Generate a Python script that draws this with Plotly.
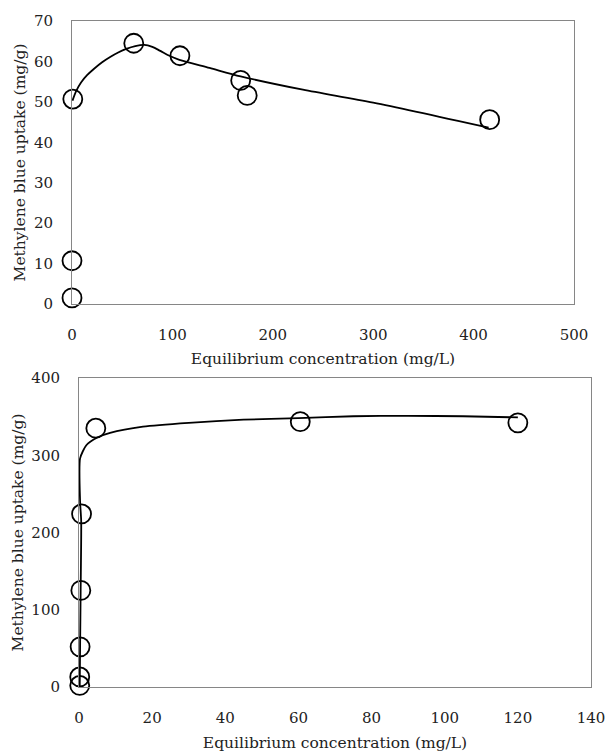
import plotly.graph_objects as go

# ---- Top panel data ----
top_ce = [0.0, 0.0, 0.8, 61.5, 107.5, 168.0, 174.5, 416.0]
top_qe = [1.5, 10.7, 50.7, 64.5, 61.4, 55.3, 51.6, 45.6]
top_fit_ce = [0.5, 4, 9, 15, 22, 30, 38, 46, 54, 63, 72, 80, 88, 97, 107, 137, 168, 230, 300, 415]
top_fit_qe = [50.3, 52.6, 54.8, 56.6, 58.2, 59.8, 61.1, 62.2, 63.1, 63.8, 64.1, 63.6, 62.6, 61.4, 60.4, 58.4, 56.3, 53.0, 49.8, 43.6]
top_xticks = [0, 100, 200, 300, 400, 500]
top_yticks = [0, 10, 20, 30, 40, 50, 60, 70]

# ---- Bottom panel data ----
bot_ce = [0.2, 0.2, 0.3, 0.5, 0.7, 4.6, 60.5, 120.0]
bot_qe = [2, 13, 52, 125, 224, 335, 343.5, 342]
bot_fit_ce = [0.2, 0.3, 0.45, 0.6, 0.3, 0.3, 2, 5, 8.5, 17.5, 30, 45, 60, 75, 90, 105, 120]
bot_fit_qe = [0, 52, 125, 215, 240, 296, 313, 323, 329, 337, 342, 346, 348, 350.5, 351, 350.5, 349]
bot_xticks = [0, 20, 40, 60, 80, 100, 120, 140]
bot_yticks = [0, 100, 200, 300, 400]

W, H = 608, 753
FONT = "DejaVu Serif"
AX = "#868686"

fig = go.Figure()

line_style = dict(color="black", width=1.8)
marker_style = dict(symbol="circle-open", size=19, color="black", line=dict(width=1.8, color="black"))

fig.add_trace(go.Scatter(x=top_fit_ce, y=top_fit_qe, mode="lines", line=dict(shape="spline", smoothing=0.8, **line_style),
                         xaxis="x", yaxis="y", cliponaxis=False, hoverinfo="skip"))
fig.add_trace(go.Scatter(x=top_ce, y=top_qe, mode="markers", marker=marker_style, xaxis="x", yaxis="y", cliponaxis=False))

fig.add_trace(go.Scatter(x=bot_fit_ce, y=bot_fit_qe, mode="lines", line=dict(shape="spline", smoothing=0.6, **line_style),
                         xaxis="x2", yaxis="y2", cliponaxis=False, hoverinfo="skip"))
fig.add_trace(go.Scatter(x=bot_ce, y=bot_qe, mode="markers", marker=marker_style, xaxis="x2", yaxis="y2", cliponaxis=False))

def px_x(a, b):
    return [a / W, b / W]

def px_y(top, bottom):
    return [1 - bottom / H, 1 - top / H]

tickfont = dict(family=FONT, size=15, color="#222")
titlefont = dict(family=FONT, size=15.5, color="#222")

common_x = dict(showgrid=False, zeroline=False, showline=True, linecolor=AX, linewidth=1, mirror=True,
                ticks="", tickfont=tickfont, ticklabelstandoff=17, automargin=False)
common_y = dict(showgrid=False, zeroline=False, showline=True, linecolor=AX, linewidth=1, mirror=True,
                ticks="", tickfont=tickfont, ticklabelstandoff=15, automargin=False)

fig.update_layout(
    width=W, height=H,
    margin=dict(l=0, r=0, t=0, b=0),
    paper_bgcolor="white", plot_bgcolor="white",
    showlegend=False,
    xaxis=dict(domain=px_x(72, 574), range=[0, 500], tickvals=top_xticks, anchor="y",
               title=dict(text="Equilibrium concentration (mg/L)", font=titlefont, standoff=10), **common_x),
    yaxis=dict(domain=px_y(21, 304), range=[0, 70], tickvals=top_yticks, anchor="x",
               title=dict(text="Methylene blue uptake (mg/g)", font=titlefont, standoff=4), **common_y),
    xaxis2=dict(domain=px_x(79, 591), range=[0, 140], tickvals=bot_xticks, anchor="y2",
                title=dict(text="Equilibrium concentration (mg/L)", font=titlefont, standoff=11), **common_x),
    yaxis2=dict(domain=px_y(378, 687), range=[0, 400], tickvals=bot_yticks, anchor="x2",
                title=dict(text="Methylene blue uptake (mg/g)", font=titlefont, standoff=3), **common_y),
)

fig.write_html(
    "out.html",
    config={"displayModeBar": False},
    post_script="document.body.style.margin='0';document.documentElement.style.overflow='hidden';document.body.style.overflow='hidden';",
)
